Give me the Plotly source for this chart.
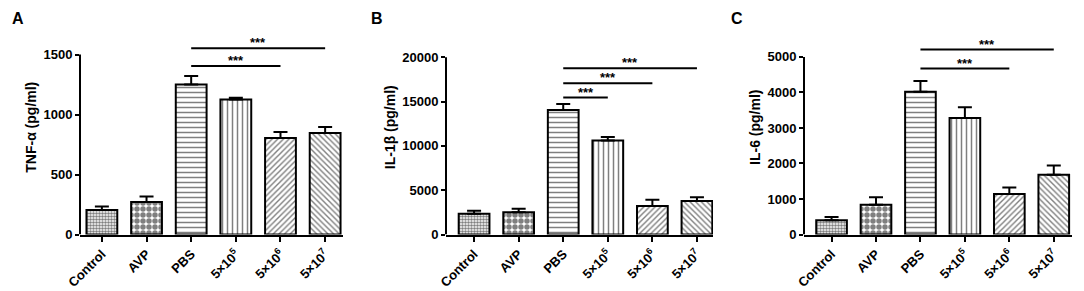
import plotly.graph_objects as go

categories = ["Control", "AVP", "PBS", "5×10<sup>5</sup>", "5×10<sup>6</sup>", "5×10<sup>7</sup>"]

tnf_mean = [205, 270, 1250, 1125, 805, 845]
tnf_err = [28, 47, 70, 15, 50, 50]

il1b_mean = [2350, 2500, 14050, 10600, 3220, 3780]
il1b_err = [330, 420, 680, 400, 700, 430]

il6_mean = [400, 840, 4020, 3280, 1140, 1680]
il6_err = [95, 210, 300, 300, 180, 260]

# significance brackets: (from index, to index, y value)
tnf_sig = [(2, 5, 1553), (2, 4, 1405)]
il1b_sig = [(2, 5, 18760), (2, 4, 17070), (2, 3, 15450)]
il6_sig = [(2, 5, 5207), (2, 4, 4672)]

tnf_ticks = [0, 500, 1000, 1500]
il1b_ticks = [0, 5000, 10000, 15000, 20000]
il6_ticks = [0, 1000, 2000, 3000, 4000, 5000]

panels = [
    dict(letter="A", title="TNF-α (pg/ml)", mean=tnf_mean, err=tnf_err, sig=tnf_sig,
         ticks=tnf_ticks, xdom=[80, 343], yrange_top=1787.5, xr=[-0.49, 5.4], lx=10),
    dict(letter="B", title="IL-1β (pg/ml)", mean=il1b_mean, err=il1b_err, sig=il1b_sig,
         ticks=il1b_ticks, xdom=[446, 713], yrange_top=24210, xr=[-0.63, 5.36], lx=369),
    dict(letter="C", title="IL-6 (pg/ml)", mean=il6_mean, err=il6_err, sig=il6_sig,
         ticks=il6_ticks, xdom=[804, 1072], yrange_top=6039, xr=[-0.62, 5.41], lx=729),
]

patterns = [
    dict(shape=".", size=3, solidity=0.55),
    dict(shape=".", size=6, solidity=0.65),
    dict(shape="-", size=5, solidity=0.3),
    dict(shape="|", size=5, solidity=0.3),
    dict(shape="/", size=4, solidity=0.35),
    dict(shape="\\", size=4, solidity=0.35),
]

W, H = 1084, 291
FONT = "Liberation Sans, Arial, sans-serif"
fig = go.Figure()
shapes = []
annotations = []

ybot = 1 - 234.5 / H
ytop = 1 - 20 / H

for k, p in enumerate(panels):
    sfx = "" if k == 0 else str(k + 1)
    xa = "x" + sfx
    ya = "y" + sfx
    for i, c in enumerate(categories):
        pat = patterns[i]
        fig.add_trace(go.Bar(
            x=[c], y=[p["mean"][i]], xaxis=xa, yaxis=ya, width=0.69,
            marker=dict(color="white", line=dict(color="black", width=2),
                        pattern=dict(shape=pat["shape"], size=pat["size"], solidity=pat["solidity"],
                                     fgcolor="black", bgcolor="white", fillmode="overlay")),
            error_y=dict(type="data", array=[p["err"][i]], arrayminus=[0], symmetric=False,
                         color="black", thickness=2, width=7),
            showlegend=False, hoverinfo="skip",
        ))
    fig.update_layout(**{
        ("xaxis" + sfx): dict(
            domain=[p["xdom"][0] / W, p["xdom"][1] / W], anchor=ya, automargin=False,
            type="category", categoryorder="array", categoryarray=categories,
            range=p["xr"], showline=True, linecolor="black", linewidth=2,
            ticks="outside", ticklen=5, tickwidth=2, tickcolor="black",
            tickangle=-45, tickfont=dict(family=FONT, size=13, color="black", weight="bold"),
            showgrid=False, zeroline=False, fixedrange=True,
        ),
        ("yaxis" + sfx): dict(
            domain=[ybot, ytop], anchor=xa, range=[0, p["yrange_top"]], automargin=False,
            showline=False, showgrid=False, zeroline=False,
            tickvals=p["ticks"], tickformat="d", ticks="outside", ticklen=4, tickwidth=2,
            tickcolor="black",
            tickfont=dict(family=FONT, size=13, color="black", weight="bold"),
            title=dict(text=p["title"], font=dict(family=FONT, size=14, color="black", weight="bold"),
                       standoff=3),
        ),
    })
    # y axis line up to the top tick
    shapes.append(dict(type="line", xref=xa + " domain", yref=ya, x0=0, x1=0,
                       y0=0, y1=p["ticks"][-1], line=dict(color="black", width=2)))
    for (a, b, yv) in p["sig"]:
        shapes.append(dict(type="line", xref=xa, yref=ya, x0=a, x1=b, y0=yv, y1=yv,
                           line=dict(color="black", width=2)))
        annotations.append(dict(xref=xa, yref=ya, x=(a + b) / 2, y=yv, text="***",
                                showarrow=False, yanchor="bottom", yshift=-4,
                                font=dict(family=FONT, size=13, color="black", weight="bold")))
    annotations.append(dict(xref="paper", yref="paper", x=p["lx"] / W, y=1 - 8 / H,
                            text=p["letter"], showarrow=False, xanchor="left", yanchor="top",
                            font=dict(family=FONT, size=16, color="black", weight="bold")))

fig.update_layout(
    template="none",
    width=W, height=H, margin=dict(l=0, r=0, t=0, b=0),
    plot_bgcolor="white", paper_bgcolor="white",
    shapes=shapes, annotations=annotations, bargap=0.3,
)
fig.write_html("out.html", config={"displayModeBar": False, "staticPlot": True},
               post_script="document.body.style.margin='0';document.body.style.overflow='hidden';")
